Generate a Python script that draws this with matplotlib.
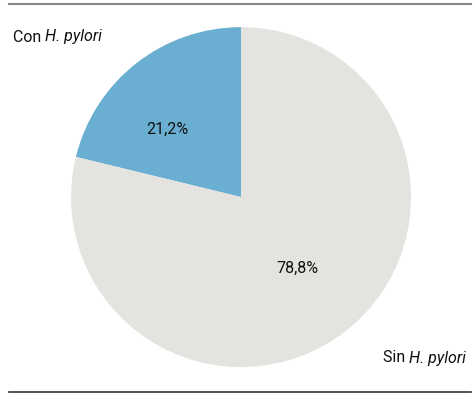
import matplotlib.pyplot as plt
from matplotlib.lines import Line2D

labels = ["Con H. pylori", "Sin H. pylori"]
values = [21.2, 78.8]
pct_labels = ["21,2%", "78,8%"]
colors = ["#6aafd2", "#e4e3df"]

font = "Roboto"
fs = 11.5

fig = plt.figure(figsize=(4.75, 3.99), dpi=100)
ax = fig.add_axes([0.1495, 0.080, 0.716, 0.852])

wedges, _ = ax.pie(values, colors=colors, startangle=90, counterclock=True,
                   radius=1.0, wedgeprops=dict(linewidth=0))
ax.set_xlim(-1, 1)
ax.set_ylim(-1, 1)
ax.set_aspect("equal")

# percentage labels inside the slices
ax.text(-0.435, 0.40, pct_labels[0], ha="center", va="center",
        fontsize=fs, family=font, color="#111111")
ax.text(0.33, -0.418, pct_labels[1], ha="center", va="center",
        fontsize=fs, family=font, color="#111111")

# slice names: plain word + italic species name
t1 = fig.text(13 / 475, 1 - 37 / 399, "Con ", ha="left", va="center",
              fontsize=fs, family=font, color="#111111")
ax.annotate("H. pylori", xy=(1, 0.5), xycoords=t1, ha="left", va="center",
            fontsize=fs, family=font, style="italic", color="#111111")

t2 = fig.text(466 / 475, 1 - 358 / 399, "H. pylori", ha="right", va="center",
              fontsize=fs, family=font, style="italic", color="#111111")
ax.annotate("Sin ", xy=(0, 0.5), xycoords=t2, ha="right", va="center",
            fontsize=fs, family=font, color="#111111")

# rules at top and bottom
fig.add_artist(Line2D([9 / 475, 471 / 475], [1 - 4 / 399, 1 - 4 / 399],
                      color="#888888", linewidth=1.5, transform=fig.transFigure))
fig.add_artist(Line2D([9 / 475, 471 / 475], [1 - 392 / 399, 1 - 392 / 399],
                      color="#333333", linewidth=1.2, transform=fig.transFigure))

fig.savefig("out.png", dpi=100)
